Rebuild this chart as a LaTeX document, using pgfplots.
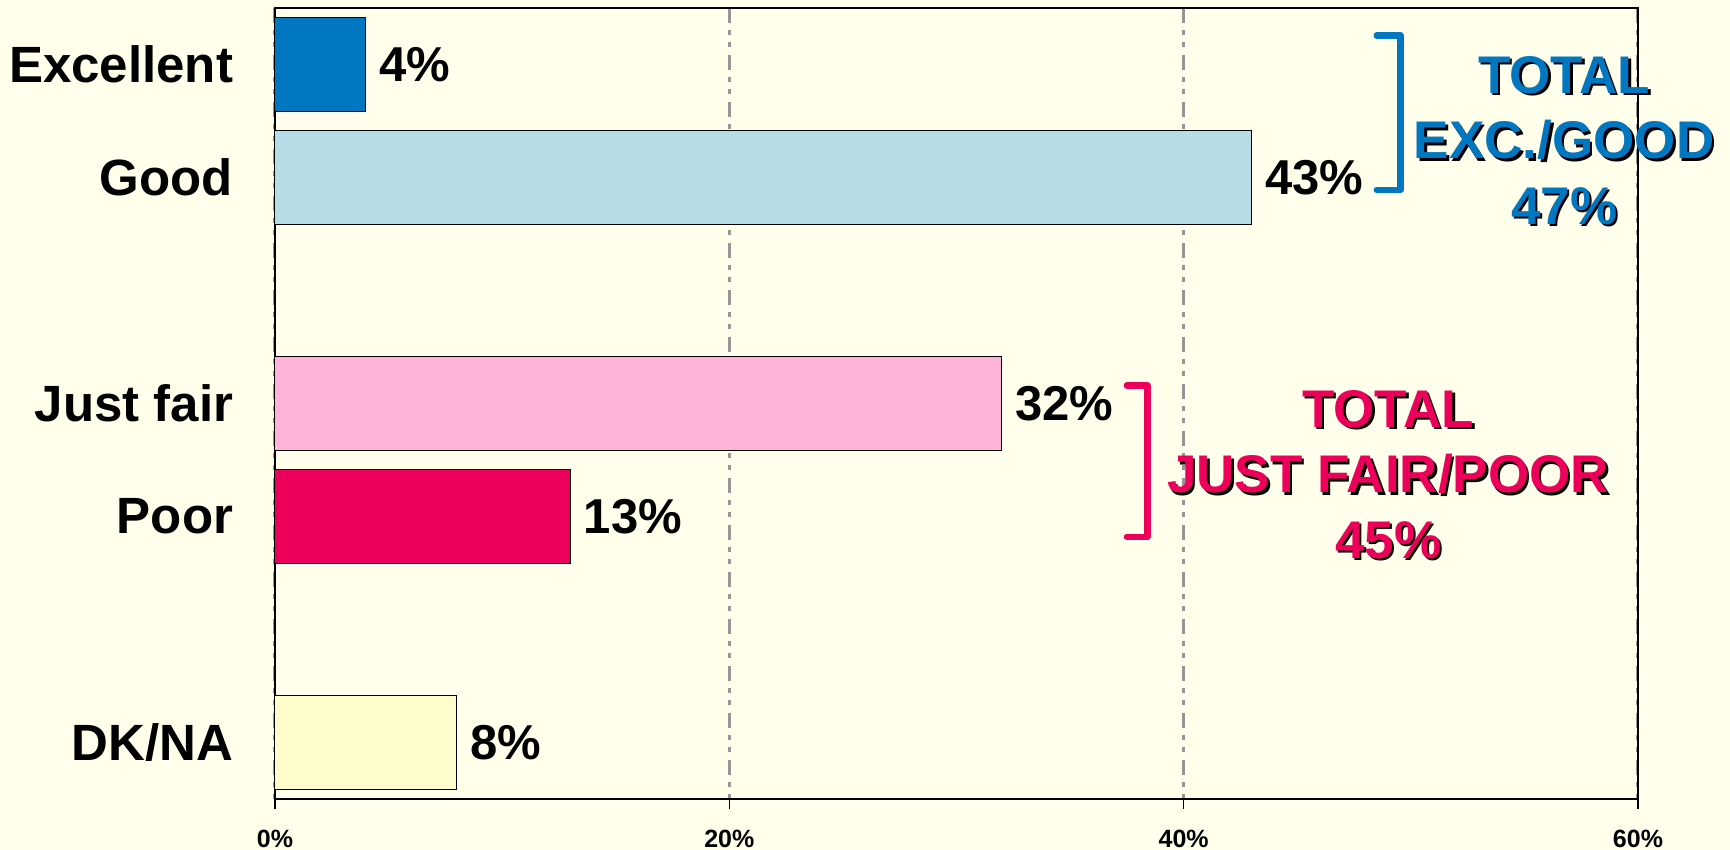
\documentclass[border=0pt]{standalone}
\usepackage{pgfplots}
\pgfplotsset{compat=1.18}
\usepackage{fontspec}
\setmainfont{Liberation Sans}
\definecolor{bg}{RGB}{255,255,235}
\definecolor{excb}{RGB}{0,119,192}
\definecolor{goodb}{RGB}{182,221,229}
\definecolor{fairb}{RGB}{255,179,217}
\definecolor{poorb}{RGB}{236,0,92}
\definecolor{dkb}{RGB}{255,252,204}
\definecolor{gridg}{RGB}{150,150,150}
\newcommand{\totalfont}{\bfseries\fontsize{26.5}{32.75}\selectfont}
\newcommand{\shadowtext}[4]{%
  \node[align=center, text=black, font=\totalfont, xshift=1.2pt, yshift=-1.2pt] at (axis cs:#1,#2) {#4};
  \node[align=center, text=#3, font=\totalfont] at (axis cs:#1,#2) {#4};
}
\begin{document}
\begin{tikzpicture}
\fill[bg] (-137.5pt,-25.5pt) rectangle (727.5pt,399.5pt);
\begin{axis}[
  at={(0,0)}, anchor=south west,
  scale only axis, width=681.5pt, height=395.5pt,
  xbar, bar width=0.84,
  xmin=0, xmax=60, ymin=-0.5, ymax=6.5, y dir=reverse,
  xtick={0,20,40,60}, xticklabels={0\%,20\%,40\%,60\%},
  ytick={0,1,3,4,6}, yticklabels={Excellent,Good,Just fair,Poor,DK/NA},
  xtick pos=left,
  tick align=outside, major tick length=5pt,
  xtick style={black, line width=0.7pt},
  ytick style={draw=none},
  xmajorgrids,
  grid style={gridg, line width=1.5pt, dash pattern=on 7.5pt off 3.5pt on 2.5pt off 3.5pt on 2.5pt off 4pt},
  axis line style={black, line width=0.8pt},
  clip=false,
  xticklabel style={font=\bfseries\fontsize{12.5}{12.5}\selectfont, yshift=-6.8pt},
  yticklabel style={font=\bfseries\fontsize{25.5}{25.5}\selectfont, xshift=-12.4pt},
  nodes near coords={\pgfmathprintnumber[assume math mode=true]{\pgfplotspointmeta}\%},
  nodes near coords style={font=\bfseries\fontsize{24.5}{24.5}\selectfont, anchor=west, inner sep=0pt, xshift=6.5pt, text=black},
  every axis plot/.append style={draw=black, line width=0.5pt, bar shift=0pt},
]
\addplot[fill=excb] coordinates {(4,0)};
\addplot[fill=goodb] coordinates {(43,1)};
\addplot[fill=fairb] coordinates {(32,3)};
\addplot[fill=poorb] coordinates {(13,4)};
\addplot[fill=dkb] coordinates {(8,6)};
\draw[black, line width=1.4pt] (axis cs:0,6.5) -- (axis cs:60,6.5);
\draw[excb, line width=3.2pt, line join=round, line cap=round] (axis cs:48.5,-0.257) -- (axis cs:49.55,-0.257) -- (axis cs:49.55,1.11) -- (axis cs:48.5,1.11);
\draw[poorb, line width=3.2pt, line join=round, line cap=round] (axis cs:37.5,2.84) -- (axis cs:38.4,2.84) -- (axis cs:38.4,4.18) -- (axis cs:37.5,4.18);
\shadowtext{56.75}{0.673}{excb}{TOTAL\\EXC./GOOD\\47\%}
\shadowtext{49.0}{3.63}{poorb}{TOTAL\\JUST FAIR/POOR\\45\%}
\end{axis}
\pgfresetboundingbox
\path[use as bounding box] (-137.5pt,-25.5pt) rectangle (727.5pt,399.5pt);
\end{tikzpicture}
\end{document}
